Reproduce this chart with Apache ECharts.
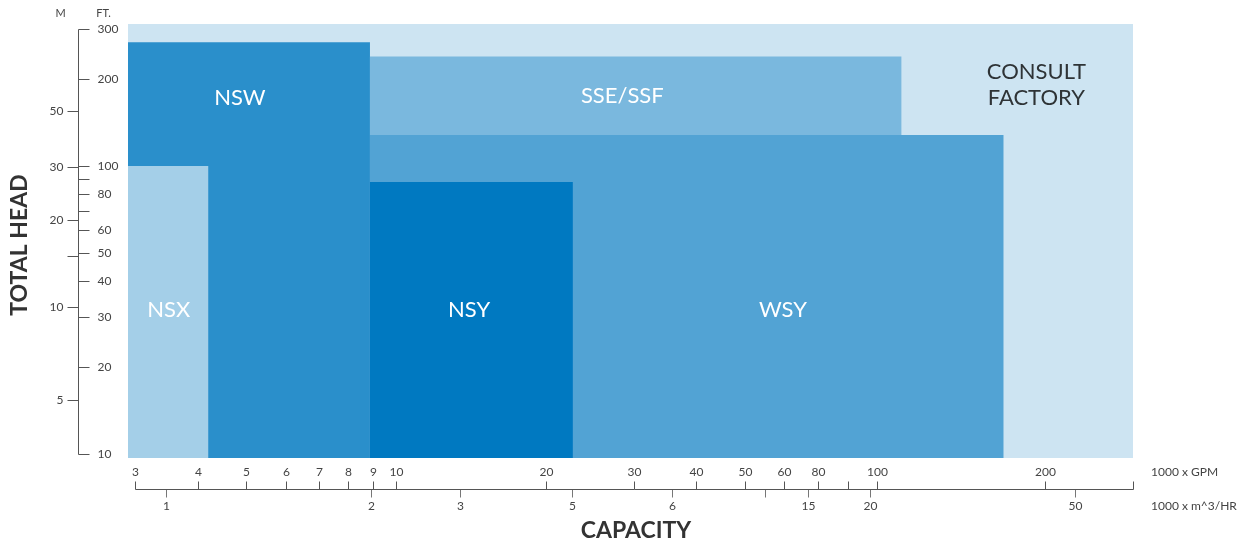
<!DOCTYPE html>
<html>
<head>
<meta charset="utf-8">
<style>
html,body{margin:0;padding:0;background:#fff;}
#chart{width:1249px;height:544px;}
</style>
<script src="https://cdn.jsdelivr.net/npm/echarts@6/dist/echarts.min.js"></script>
</head>
<body>
<div id="chart"></div>
<script>
// ---- Data (capacity in 1000 x GPM, head in FT) ----
const regionNames = ['CONSULT\nFACTORY', 'NSW', 'NSX', 'SSE/SSF', 'WSY', 'NSY'];
const capMin = [2.9, 2.9, 2.9, 8.86, 8.86, 8.86];
const capMax = [300, 8.86, 4.2, 103, 165, 22.6];
const headMin = [9.68, 9.68, 9.68, 128, 9.68, 9.68];
const headMax = [311, 269, 100, 240, 128, 88];
const labelCap = [192, 4.86, 3.5, 28.4, 59.6, 14.0];
const labelHead = [191, 172, 31.6, 175, 31.6, 31.6];

// FT axis ticks
const ftTicks = [300, 200, 100, 90, 80, 70, 60, 50, 40, 30, 20, 10];
const ftTickLabels = ['300', '200', '100', '', '80', '', '60', '50', '40', '30', '20', '10'];
// M axis ticks (positions in FT as drawn)
const mTickFt = [155, 99.1, 64.9, 48.7, 32.4, 15.4];
const mTickLabels = ['50', '30', '20', '', '10', '5'];
// GPM axis ticks (positions in 1000 x GPM as drawn)
const gpmTicks = [3, 4, 5, 6, 7, 8, 9, 10, 20, 30, 40, 50, 60, 70, 80.5, 92, 200, 300];
const gpmTickLabels = ['3', '4', '5', '6', '7', '8', '9', '10', '20', '30', '40', '50', '60', '80', '', '100', '200', ''];
// m^3/HR axis ticks (positions in 1000 x GPM as drawn)
const m3TickPos = [3.46, 8.9, 13.4, 22.5, 35.7, 54.9, 66.9, 89.1, 229.6];
const m3TickLabels = ['1', '2', '3', '5', '6', '', '15', '20', '50'];

const X_MIN = 2.9, X_MAX = 300, Y_MIN = 9.68, Y_MAX = 311;
const colors = ['#cde4f2', '#2a8fcb', '#a4cfe8', '#7ab8de', '#52a3d4', '#0079c1'];
const labelColors = ['#2e3336', '#ffffff', '#ffffff', '#ffffff', '#ffffff', '#ffffff'];
const FONT = 'Lato, "Open Sans", sans-serif';
const TICK_COLOR = '#555';
const TEXT_COLOR = '#444';

const rectData = regionNames.map((n, i) => [capMin[i], capMax[i], headMin[i], headMax[i]]);
const labelData = regionNames.map((n, i) => [labelCap[i], labelHead[i], n]);

const chart = echarts.init(document.getElementById('chart'), null, {renderer: 'canvas'});

const option = {
  animation: false,
  grid: {left: 128, right: 116, top: 24, bottom: 86},
  xAxis: {type: 'log', min: X_MIN, max: X_MAX, show: false},
  yAxis: {type: 'log', min: Y_MIN, max: Y_MAX, show: false},
  series: [
    {
      type: 'custom',
      z: 1,
      data: rectData,
      encode: {x: [0, 1], y: [2, 3]},
      renderItem: function (params, api) {
        const p0 = api.coord([api.value(0), api.value(3)]);
        const p1 = api.coord([api.value(1), api.value(2)]);
        return {
          type: 'rect',
          shape: {x: p0[0], y: p0[1], width: p1[0] - p0[0], height: p1[1] - p0[1]},
          style: {fill: colors[params.dataIndex]}
        };
      }
    },
    {
      type: 'custom',
      z: 2,
      data: labelData,
      encode: {x: 0, y: 1},
      renderItem: function (params, api) {
        const p = api.coord([api.value(0), api.value(1)]);
        return {
          type: 'text',
          x: p[0], y: p[1],
          style: {
            text: labelData[params.dataIndex][2],
            fill: labelColors[params.dataIndex],
            font: '22px ' + FONT,
            align: 'center', verticalAlign: 'middle',
            lineHeight: 26
          }
        };
      }
    },
    // FT axis (right side of vertical line)
    {
      type: 'custom',
      z: 3,
      data: ftTicks.map(v => [X_MIN, v]),
      encode: {x: 0, y: 1},
      renderItem: function (params, api) {
        const p = api.coord([X_MIN, api.value(1)]);
        const ax = Math.round(p[0] - 50) + 0.5;
        const y = Math.round(p[1]) + 0.5;
        return {
          type: 'group',
          children: [
            {type: 'line', shape: {x1: ax, y1: y, x2: ax + 11, y2: y}, style: {stroke: TICK_COLOR, lineWidth: 1}},
            {type: 'text', x: ax + 19, y: y, style: {text: ftTickLabels[params.dataIndex], fill: TEXT_COLOR, font: '12px ' + FONT, align: 'left', verticalAlign: 'middle'}}
          ]
        };
      }
    },
    // M axis (left side)
    {
      type: 'custom',
      z: 3,
      data: mTickFt.map(v => [X_MIN, v]),
      encode: {x: 0, y: 1},
      renderItem: function (params, api) {
        const p = api.coord([X_MIN, api.value(1)]);
        const ax = Math.round(p[0] - 50) + 0.5;
        const y = Math.round(p[1]) + 0.5;
        return {
          type: 'group',
          children: [
            {type: 'line', shape: {x1: ax - 11, y1: y, x2: ax, y2: y}, style: {stroke: TICK_COLOR, lineWidth: 1}},
            {type: 'text', x: ax - 15, y: y, style: {text: mTickLabels[params.dataIndex], fill: TEXT_COLOR, font: '12px ' + FONT, align: 'right', verticalAlign: 'middle'}}
          ]
        };
      }
    },
    // vertical axis line + headers
    {
      type: 'custom',
      z: 3,
      data: [[X_MIN, ftTicks[0], ftTicks[ftTicks.length - 1]]],
      encode: {x: 0, y: [1, 2]},
      renderItem: function (params, api) {
        const pTop = api.coord([X_MIN, api.value(1)]);
        const pBot = api.coord([X_MIN, api.value(2)]);
        const ax = Math.round(pTop[0] - 50) + 0.5;
        return {
          type: 'group',
          children: [
            {type: 'line', shape: {x1: ax, y1: Math.round(pTop[1]) + 0.5, x2: ax, y2: Math.round(pBot[1]) + 0.5}, style: {stroke: TICK_COLOR, lineWidth: 1}},
            {type: 'text', x: ax - 18, y: Math.round(pTop[1]) - 16, style: {text: 'M', fill: TEXT_COLOR, font: '11px ' + FONT, align: 'center', verticalAlign: 'middle'}},
            {type: 'text', x: ax + 25, y: Math.round(pTop[1]) - 16, style: {text: 'FT.', fill: TEXT_COLOR, font: '11px ' + FONT, align: 'center', verticalAlign: 'middle'}}
          ]
        };
      }
    },
    // GPM axis ticks (upward) + labels above
    {
      type: 'custom',
      z: 3,
      data: gpmTicks.map(v => [v, Y_MIN]),
      encode: {x: 0, y: 1},
      renderItem: function (params, api) {
        const p = api.coord([api.value(0), Y_MIN]);
        const x = Math.round(p[0]) + 0.5;
        const ay = Math.round(p[1] + 31) + 0.5;
        return {
          type: 'group',
          children: [
            {type: 'line', shape: {x1: x, y1: ay - 8, x2: x, y2: ay}, style: {stroke: TICK_COLOR, lineWidth: 1}},
            {type: 'text', x: x, y: ay - 17, style: {text: gpmTickLabels[params.dataIndex], fill: TEXT_COLOR, font: '12px ' + FONT, align: 'center', verticalAlign: 'middle'}}
          ]
        };
      }
    },
    // m3/HR axis ticks (downward) + labels below
    {
      type: 'custom',
      z: 3,
      data: m3TickPos.map(v => [v, Y_MIN]),
      encode: {x: 0, y: 1},
      renderItem: function (params, api) {
        const p = api.coord([api.value(0), Y_MIN]);
        const x = Math.round(p[0]) + 0.5;
        const ay = Math.round(p[1] + 31) + 0.5;
        return {
          type: 'group',
          children: [
            {type: 'line', shape: {x1: x, y1: ay, x2: x, y2: ay + 8}, style: {stroke: '#777', lineWidth: 1}},
            {type: 'text', x: x, y: ay + 17, style: {text: m3TickLabels[params.dataIndex], fill: TEXT_COLOR, font: '12px ' + FONT, align: 'center', verticalAlign: 'middle'}}
          ]
        };
      }
    },
    // horizontal axis line + unit labels
    {
      type: 'custom',
      z: 3,
      data: [[gpmTicks[0], gpmTicks[gpmTicks.length - 1], Y_MIN]],
      encode: {x: [0, 1], y: 2},
      renderItem: function (params, api) {
        const p0 = api.coord([api.value(0), Y_MIN]);
        const p1 = api.coord([api.value(1), Y_MIN]);
        const ay = Math.round(p0[1] + 31) + 0.5;
        return {
          type: 'group',
          children: [
            {type: 'line', shape: {x1: Math.round(p0[0]) + 0.5, y1: ay, x2: Math.round(p1[0]) + 0.5, y2: ay}, style: {stroke: TICK_COLOR, lineWidth: 1}},
            {type: 'text', x: p1[0] + 18, y: ay - 17, style: {text: '1000 x GPM', fill: TEXT_COLOR, font: '12px ' + FONT, align: 'left', verticalAlign: 'middle'}},
            {type: 'text', x: p1[0] + 18, y: ay + 17, style: {text: '1000 x m^3/HR', fill: TEXT_COLOR, font: '12px ' + FONT, align: 'left', verticalAlign: 'middle'}}
          ]
        };
      }
    }
  ],
  graphic: [
    {type: 'text', x: 20, y: 245, rotation: Math.PI / 2,
     style: {text: 'TOTAL HEAD', fill: '#333', font: 'bold 23px ' + FONT, align: 'center', verticalAlign: 'middle'}},
    {type: 'text', x: 636, y: 531,
     style: {text: 'CAPACITY', fill: '#333', font: 'bold 23px ' + FONT, align: 'center', verticalAlign: 'middle'}}
  ]
};

chart.setOption(option);
</script>
</body>
</html>
